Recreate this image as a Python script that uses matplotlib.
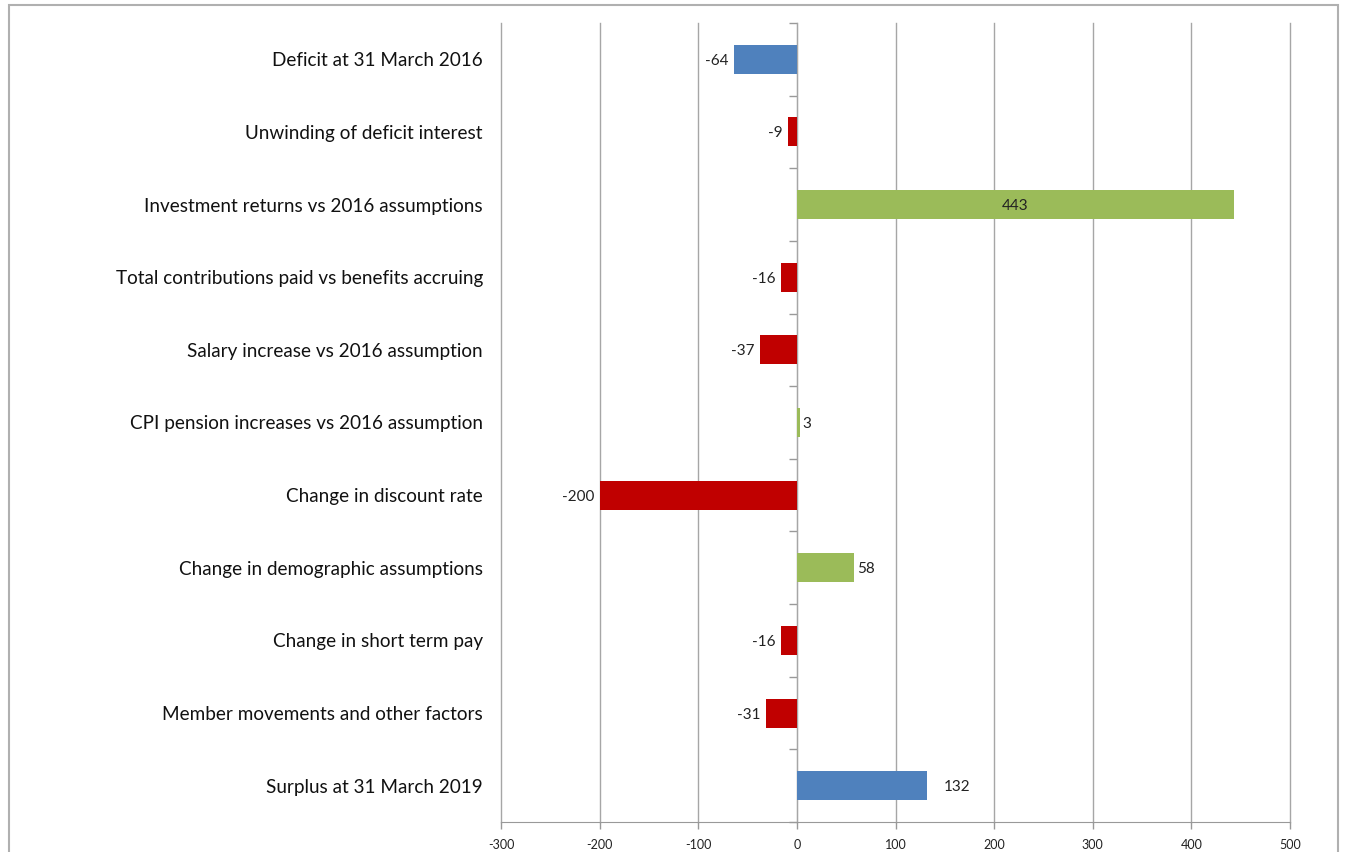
import matplotlib
matplotlib.use("Agg")
import matplotlib.pyplot as plt
from matplotlib.patches import Rectangle

categories = [
    "Deficit at 31 March 2016",
    "Unwinding of deficit interest",
    "Investment returns vs 2016 assumptions",
    "Total contributions paid vs benefits accruing",
    "Salary increase vs 2016 assumption",
    "CPI pension increases vs 2016 assumption",
    "Change in discount rate",
    "Change in demographic assumptions",
    "Change in short term pay",
    "Member movements and other factors",
    "Surplus at 31 March 2019",
]
values = [-64, -9, 443, -16, -37, 3, -200, 58, -16, -31, 132]
kinds = ["total", "neg", "pos", "neg", "neg", "pos", "neg", "pos", "neg", "neg", "total"]
x_ticks = [-300, -200, -100, 0, 100, 200, 300, 400, 500]

palette = {"total": "#4F81BD", "neg": "#C00000", "pos": "#9BBB59"}
FONT = ["Lato", "DejaVu Sans"]
plt.rcParams["font.family"] = FONT

W, H = 1346, 852
fig = plt.figure(figsize=(W / 100, H / 100), dpi=100)
ax = fig.add_axes([501 / W, 1 - 822 / H, (1290 - 501) / W, (822 - 23) / H])

ypos = list(range(len(categories)))
colors = [palette[k] for k in kinds]
ax.barh(ypos, values, height=0.4, color=colors, zorder=3)

ax.set_xlim(-300, 500)
ax.set_ylim(len(categories) - 0.5, -0.5)
ax.set_xticks(x_ticks)
ax.set_xticklabels([str(t) for t in x_ticks], fontsize=9, color="#222222")
ax.set_yticks(ypos)
ax.set_yticklabels(categories, fontsize=13.6, color="#111111")
ax.tick_params(axis="y", length=0, pad=13)
ax.tick_params(axis="x", length=5, color="#999999", width=1, pad=7)
ax.grid(axis="x", color="#a6a6a6", linewidth=1, zorder=0)
for gl in ax.get_xgridlines():
    gl.set_clip_on(False)
for s in ["left", "right", "top"]:
    ax.spines[s].set_visible(False)
ax.spines["bottom"].set_color("#999999")

# vertical category axis at zero with tick marks between categories
sec = ax.secondary_yaxis(0.375)
sec.set_yticks([i - 0.5 for i in range(len(categories) + 1)])
sec.set_yticklabels([])
sec.tick_params(axis="y", length=6, color="#999999", width=1)
sec.spines["left"].set_color("#999999")

for i, (v, k) in enumerate(zip(values, kinds)):
    if v > 300:
        ax.annotate(str(v), (v / 2, i), ha="center", va="center_baseline",
                    fontsize=11, color="#222222", zorder=4)
    elif v < 0:
        ax.annotate(str(v), (v, i), xytext=(-4, 0), textcoords="offset points",
                    ha="right", va="center_baseline", fontsize=11, color="#222222")
    else:
        off = 12 if k == "total" else 2
        ax.annotate(str(v), (v, i), xytext=(off, 0), textcoords="offset points",
                    ha="left", va="center_baseline", fontsize=11, color="#222222")

# outer frame
fig.patches.append(Rectangle((9 / W, -0.05), (1338 - 9) / W, 1.05 - 5 / H,
                             transform=fig.transFigure, fill=False,
                             edgecolor="#b0b0b0", linewidth=1.5))

fig.savefig("out.png", dpi=100)
